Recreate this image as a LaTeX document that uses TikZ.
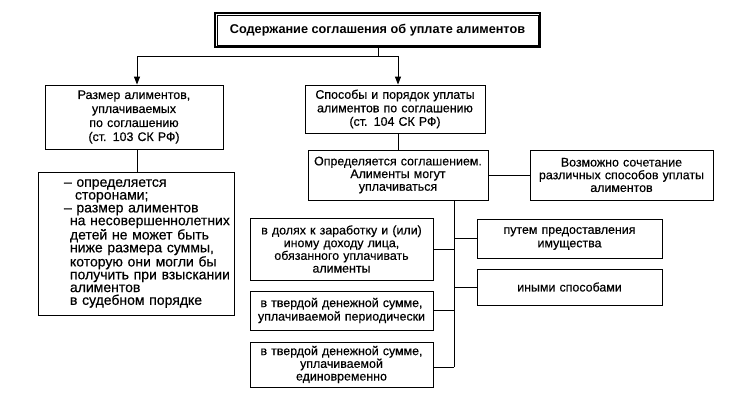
\documentclass[tikz,border=0pt]{standalone}
\usepackage{fontspec}
\setmainfont{Liberation Sans}[FakeBold=0.4]
\newfontfamily\titlefont{Liberation Sans Bold}
\usetikzlibrary{arrows.meta}
\newcommand{\dl}{\hspace*{26pt}}
\newcommand{\il}{\hspace*{37pt}}
\newcommand{\jl}{\hspace*{32pt}}
\begin{document}
\begin{tikzpicture}[x=1pt,y=-1pt,
  box/.style={draw, line width=0.9pt, align=center, inner sep=0pt,
    font=\fontsize{12.4}{13.5}\selectfont},
  ln/.style={line width=0.9pt},
  arr/.style={ln, -{Triangle[length=8pt,width=6pt]}}]
\useasboundingbox (0,0) rectangle (750,400);
\fill[white] (0,0) rectangle (750,400);
% title
\node[draw, line width=1.8pt, minimum width=325pt, minimum height=34pt, inner sep=0pt,
  font=\fontsize{12.7}{14}\titlefont] (title) at (377.5,30)
  {Содержание соглашения об уплате алиментов};
\draw[line width=0.6pt] ([shift={(3,3)}]title.north west) rectangle ([shift={(-3,-3)}]title.south east);
% left column
\node[box, minimum width=178pt, minimum height=64pt, text width=174pt,
  font=\fontsize{12.4}{14}\selectfont] (L1) at (134,117)
  {Размер алиментов,\\уплачиваемых\\по соглашению\\(ст. 103 СК РФ)};
\node[box, minimum width=182pt, minimum height=143pt, text width=196pt, align=left,
  font=\fontsize{14}{12.8}\selectfont] (L2) at (136,243.5)
  {\dl– определяется\\\il сторонами;\\\dl– размер алиментов\\\jl на несовершеннолетних\\\jl детей не может быть\\\jl ниже размера суммы,\\\jl которую они могли бы\\\jl получить при взыскании\\\jl алиментов\\\jl в судебном порядке};
% right column
\node[box, minimum width=180pt, minimum height=48pt, text width=176pt] (R1) at (395,109)
  {Способы и порядок уплаты\\алиментов по соглашению\\(ст. 104 СК РФ)};
\node[box, minimum width=180pt, minimum height=50pt, text width=176pt, font=\fontsize{12.4}{12.7}\selectfont] (R2) at (398,175)
  {Определяется соглашением.\\Алименты могут\\уплачиваться};
\node[box, minimum width=183pt, minimum height=50pt, text width=178pt, font=\fontsize{12.4}{12.7}\selectfont] (R3) at (621.5,175)
  {Возможно сочетание\\различных способов уплаты\\алиментов};
\node[box, minimum width=183pt, minimum height=62pt, text width=180pt, font=\fontsize{12.4}{12.7}\selectfont] (A1) at (341.5,249)
  {в долях к заработку и (или)\\иному доходу лица,\\обязанного уплачивать\\алименты};
\node[box, minimum width=183pt, minimum height=39pt, text width=180pt] (A2) at (341.5,310.5)
  {в твердой денежной сумме,\\уплачиваемой периодически};
\node[box, minimum width=183pt, minimum height=45pt, text width=180pt, font=\fontsize{12.4}{12.7}\selectfont] (A3) at (341.5,364.5)
  {в твердой денежной сумме,\\уплачиваемой\\единовременно};
\node[box, minimum width=185pt, minimum height=39pt, text width=180pt] (B1) at (569.5,238.5)
  {путем предоставления\\имущества};
\node[box, minimum width=185pt, minimum height=36pt, text width=180pt] (B2) at (569.5,287)
  {иными способами};
% connectors
\coordinate (j) at (378,56);
\coordinate (jl) at (137,56);
\coordinate (jr) at (398,56);
\draw[ln] (title.south -| j) -- (j);
\draw[ln] (jl) -- (jr);
\draw[arr] (jl) -- (jl |- L1.north);
\draw[arr] (jr) -- (jr |- R1.north);
\draw[ln] (L1.south -| jl) -- (L2.north -| jl);
\draw[ln] (R1.south -| jr) -- (R2.north -| jr);
\draw[ln] (R2.east) -- (R3.west);
\coordinate (t) at (454,367);
\draw[ln] (R2.south -| t) -- (t);
\draw[ln] (A1.east) -- (A1.east -| t);
\draw[ln] (A2.east) -- (A2.east -| t);
\draw[ln] (A3.east |- t) -- (t);
\draw[ln] (B1.west) -- (B1.west -| t);
\draw[ln] (B2.west) -- (B2.west -| t);
\end{tikzpicture}
\end{document}
